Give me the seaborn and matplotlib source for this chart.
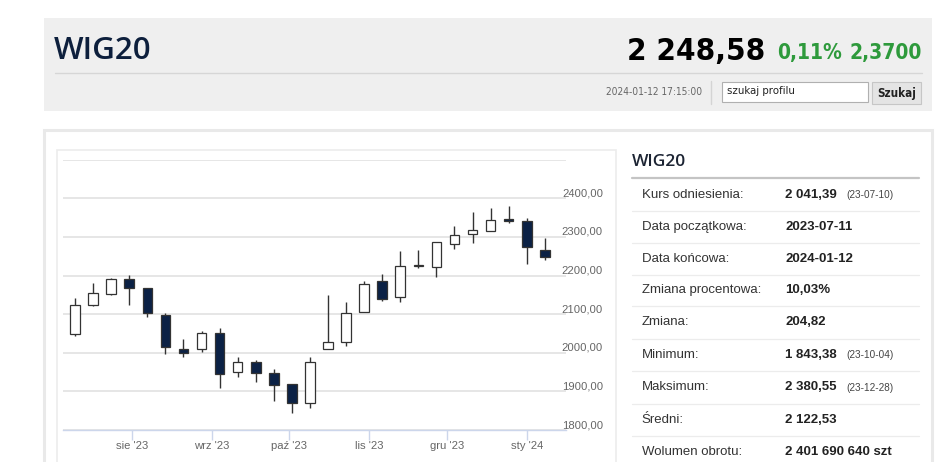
import pandas as pd
import matplotlib
matplotlib.use("Agg")
import matplotlib.pyplot as plt
from matplotlib import font_manager
from matplotlib.patches import Rectangle
from matplotlib.lines import Line2D
from matplotlib.transforms import blended_transform_factory, offset_copy
import seaborn as sns

# weekly candles WIG20
dates = ['2023-07-10', '2023-07-17', '2023-07-24', '2023-07-31', '2023-08-07',
         '2023-08-14', '2023-08-21', '2023-08-28', '2023-09-04', '2023-09-11',
         '2023-09-18', '2023-09-25', '2023-10-02', '2023-10-09', '2023-10-16',
         '2023-10-23', '2023-10-30', '2023-11-06', '2023-11-13', '2023-11-20',
         '2023-11-27', '2023-12-04', '2023-12-11', '2023-12-18', '2023-12-25',
         '2024-01-01', '2024-01-08']
opens = [2049, 2123, 2151, 2190, 2168, 2098, 2010, 2009, 2050, 1951, 1975, 1947, 1919,
         1869, 2009, 2029, 2106, 2185, 2145, 2225, 2223, 2281, 2308, 2316, 2346, 2342, 2267]
closes = [2125, 2154, 2190, 2168, 2104, 2015, 2000, 2050, 1944, 1975, 1948, 1916, 1870,
          1975, 2029, 2102, 2177, 2140, 2226, 2228, 2286, 2305, 2319, 2345, 2342, 2274, 2248.58]
highs = [2141, 2180, 2194, 2202, 2168, 2104, 2036, 2056, 2063, 1990, 1981, 1957, 1919,
         1990, 2150, 2131, 2187, 2203, 2264, 2266, 2287, 2328, 2364, 2376, 2380.55, 2348, 2298]
lows = [2044, 2121, 2150, 2123, 2092, 1998, 1988, 2003, 1910, 1936, 1925, 1876, 1843.38,
        1856, 2009, 2017, 2105, 2134, 2132, 2219, 2197, 2270, 2285, 2316, 2335, 2230, 2240]

month_ticks = ['2023-08-01', '2023-09-01', '2023-10-01', '2023-11-01', '2023-12-01', '2024-01-01']
month_labels = ["sie '23", "wrz '23", "paź '23", "lis '23", "gru '23", "sty '24"]
y_ticks = [1800, 1900, 2000, 2100, 2200, 2300, 2400, 2500]
y_labels = ['1800,00', '1900,00', '2000,00', '2100,00', '2200,00', '2300,00', '2400,00']

table_labels = ['Kurs odniesienia:', 'Data początkowa:', 'Data końcowa:', 'Zmiana procentowa:',
                'Zmiana:', 'Minimum:', 'Maksimum:', 'Średni:', 'Wolumen obrotu:']
table_values = ['2 041,39', '2023-07-11', '2024-01-12', '10,03%', '204,82',
                '1 843,38', '2 380,55', '2 122,53', '2 401 690 640 szt']
table_dates = ['(23-07-10)', '', '', '', '', '(23-10-04)', '(23-12-28)', '', '']

df = pd.DataFrame({'date': pd.to_datetime(dates), 'open': opens, 'close': closes,
                   'high': highs, 'low': lows})

sns.set_theme(style="white")
plt.rcParams['font.family'] = ['Liberation Sans', 'DejaVu Sans']

# pick a narrow face for the quote header
fonts = font_manager.fontManager.ttflist
names = {f.name for f in fonts}
if 'Liberation Sans Narrow' in names:
    narrow = dict(family=['Liberation Sans Narrow', 'DejaVu Sans'])
elif any(f.name == 'DejaVu Sans' and f.stretch == 'condensed' for f in fonts):
    narrow = dict(family=['DejaVu Sans'], fontstretch='condensed')
else:
    narrow = dict(family=['Roboto', 'DejaVu Sans'])

W, H = 948, 462
fig = plt.figure(figsize=(W / 100, H / 100), dpi=100)
fig.patch.set_facecolor('white')


def fx(x):
    return x / W


def fy(y):
    return 1 - y / H


def rect(x0, y0, x1, y1, fc, ec='none', lw=0, z=0):
    fig.patches.append(Rectangle((fx(x0), fy(y1)), fx(x1) - fx(x0), fy(y0) - fy(y1),
                                 transform=fig.transFigure, facecolor=fc, edgecolor=ec,
                                 linewidth=lw, zorder=z))


def hline(x0, x1, y, color, lw=0.8):
    fig.add_artist(Line2D([fx(x0), fx(x1)], [fy(y), fy(y)], transform=fig.transFigure,
                          color=color, lw=lw))


# header block
rect(44, 18, 932, 111, '#efefef')
hline(55, 922, 73, '#d6d6d6', 1.0)
fig.text(fx(54), fy(59), 'WIG20', fontsize=22.5, fontweight='semibold', color='#0d1f3c',
         va='baseline', family=['Open Sans', 'DejaVu Sans'])
fig.text(fx(765), fy(59.5), '2 248,58', fontsize=22.5, fontweight='bold', color='black',
         ha='right', va='baseline', **narrow)
fig.text(fx(842), fy(58.5), '0,11%', fontsize=15, fontweight='bold', color='#2e9a3c',
         ha='right', va='baseline', **narrow)
fig.text(fx(922), fy(58.5), '2,3700', fontsize=15, fontweight='bold', color='#2e9a3c',
         ha='right', va='baseline', **narrow)
fig.text(fx(702), fy(92), '2024-01-12 17:15:00', fontsize=7.3, color='#666666',
         ha='right', va='center', **narrow)
fig.add_artist(Line2D([fx(711), fx(711)], [fy(81), fy(104)], transform=fig.transFigure,
                      color='#d4d4d4', lw=1))
rect(722, 82, 868, 102, 'white', '#b0b0b0', 0.8, z=1)
fig.text(fx(727), fy(91.5), 'szukaj profilu', fontsize=8.2, color='#222222',
         va='center', zorder=2, **narrow)
rect(872, 82, 921, 104, '#e4e4e4', '#c6c6c6', 0.8, z=1)
fig.text(fx(896.5), fy(93), 'Szukaj', fontsize=8.4, fontweight='bold', color='#222222',
         ha='center', va='center', zorder=2, **narrow)

# panels
rect(44, 130, 932, 480, 'white', '#e9e9e9', 2.2)
rect(57, 150, 616, 480, 'white', '#ececec', 1.2)

# right info table
fig.text(fx(632), fy(161.5), 'WIG20', fontsize=12.5, fontweight='semibold', color='#1c2433',
         va='center', family=['Open Sans', 'DejaVu Sans'])
hline(632, 919, 178.3, '#c4c4c4', 1.6)
row_y = [194.5, 227, 258.5, 290, 322, 354.5, 387.5, 420, 452]
for y in [211, 243, 274.5, 306, 338.5, 371, 404, 436]:
    hline(632, 919, y, '#ececec', 0.9)
for y, lab, val, d in zip(row_y, table_labels, table_values, table_dates):
    fig.text(fx(641.5), fy(y), lab, fontsize=9.5, color='#333333', va='center')
    fig.text(fx(785), fy(y), val, fontsize=9.5, fontweight='bold', color='#222222',
             va='center')
    if d:
        fig.text(fx(846), fy(y + 0.5), d, fontsize=7.2, color='#444444', va='center')

# candlestick chart
ax = fig.add_axes([fx(63), fy(430), fx(566) - fx(63), fy(159.7) - fy(430)])
ax.set_zorder(5)
ax.patch.set_alpha(0)
up = df['close'] >= df['open']
ax.vlines(df['date'], df['low'], df['high'], color='#333333', lw=1.0, zorder=2)
body = (df['close'] - df['open']).abs().clip(lower=0.8)
bottom = df[['open', 'close']].min(axis=1)
ax.bar(df['date'], body, bottom=bottom, width=3.7,
       color=['white' if u else '#0b2145' for u in up],
       edgecolor='#333333', linewidth=0.9, zorder=3)

ax.set_xlim(pd.Timestamp('2023-07-05 08:00'), pd.Timestamp('2024-01-16 05:00'))
ax.set_ylim(1800, 2500)
ax.set_yticks(y_ticks)
ax.grid(axis='y', color='#e2e2e2', lw=1.2, zorder=0)
ax.tick_params(axis='y', left=False, labelleft=False, right=False, labelright=False)
ax.set_xticks(pd.to_datetime(month_ticks))
ax.set_xticklabels(month_labels)
ax.tick_params(axis='x', bottom=True, length=7, width=1, color='#ccd6eb', pad=1,
               labelsize=8.1, labelcolor='#666666')
for s in ['top', 'left', 'right']:
    ax.spines[s].set_visible(False)
ax.spines['bottom'].set_color('#ccd6eb')
ax.spines['bottom'].set_linewidth(1.0)
ax.spines['bottom'].set_zorder(1)

trans = offset_copy(blended_transform_factory(ax.transAxes, ax.transData),
                    fig=fig, x=37, y=5, units='dots')
for v, lab in zip(y_ticks, y_labels):
    ax.text(1.0, v, lab, transform=trans, ha='right', va='center', fontsize=8.1,
            color='#666666', clip_on=False)

fig.savefig('out.png', dpi=100)
